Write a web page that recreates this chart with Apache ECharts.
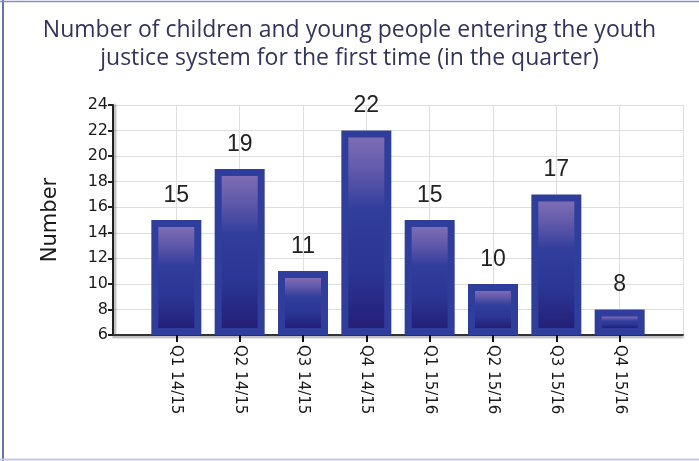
<!DOCTYPE html>
<html>
<head>
<meta charset="utf-8">
<script src="https://cdn.jsdelivr.net/npm/echarts@6/dist/echarts.min.js"></script>
<style>
html,body{margin:0;padding:0;background:#fff;}
#main{width:699px;height:461px;}
</style>
</head>
<body>
<div id="main"></div>
<script>
const titleText = 'Number of children and young people entering the youth\njustice system for the first time (in the quarter)';
const categories = ['Q1 14/15','Q2 14/15','Q3 14/15','Q4 14/15','Q1 15/16','Q2 15/16','Q3 15/16','Q4 15/16'];
const values = [15, 19, 11, 22, 15, 10, 17, 8];
const yTicks = {min: 6, max: 24, interval: 2};
const yName = 'Number';

const axisCats = [''].concat(categories, ['']);
const chart = echarts.init(document.getElementById('main'));

const innerGrad = new echarts.graphic.LinearGradient(0, 0, 0, 1, [
  {offset: 0, color: '#7e6db4'},
  {offset: 0.18, color: '#5f58aa'},
  {offset: 0.38, color: '#323e9c'},
  {offset: 0.7, color: '#2b3593'},
  {offset: 1, color: '#241f78'}
]);

chart.setOption({
  animation: false,
  title: {
    text: titleText,
    left: 'center',
    top: 11,
    textStyle: {fontFamily: 'Open Sans', fontSize: 23, fontWeight: 'normal', color: '#33335f', lineHeight: 28, letterSpacing: -0.2}
  },
  grid: {left: 113, right: 16, top: 105, bottom: 126},
  xAxis: {
    type: 'category',
    data: axisCats,
    boundaryGap: false,
    axisLine: {lineStyle: {color: '#333', width: 2, shadowColor: 'rgba(0,0,0,0.35)', shadowOffsetY: 2, shadowBlur: 2}},
    axisTick: {length: 7, lineStyle: {color: '#111', width: 2}, interval: (i) => i > 0 && i < axisCats.length - 1},
    axisLabel: {rotate: -90, interval: 0, margin: 10, fontFamily: 'DejaVu Sans', fontSize: 15, color: '#1a1a1a'},
    splitLine: {show: true, lineStyle: {color: '#dedede', width: 1}}
  },
  yAxis: {
    type: 'value',
    min: yTicks.min, max: yTicks.max, interval: yTicks.interval,
    name: yName,
    nameLocation: 'middle',
    nameGap: 52,
    nameTextStyle: {fontFamily: 'DejaVu Sans', fontSize: 21, color: '#1a1a1a'},
    axisLine: {show: true, lineStyle: {color: '#222', width: 2, shadowColor: 'rgba(0,0,0,0.35)', shadowOffsetX: 2, shadowBlur: 2}},
    axisTick: {show: true, length: 5, lineStyle: {color: '#222', width: 2}},
    axisLabel: {margin: 5, fontFamily: 'DejaVu Sans', fontSize: 16, color: '#1a1a1a'},
    splitLine: {lineStyle: {color: '#dedede', width: 1}}
  },
  graphic: [
    {type: 'line', shape: {x1: 3, y1: 0, x2: 3, y2: 461}, style: {stroke: '#6a6fb6', lineWidth: 2}},
    {type: 'line', shape: {x1: 0, y1: 1.5, x2: 699, y2: 1.5}, style: {stroke: '#8b8fc8', lineWidth: 1.5}},
    {type: 'line', shape: {x1: 0, y1: 459.5, x2: 699, y2: 459.5}, style: {stroke: '#c5c8ea', lineWidth: 2}}
  ],
  series: [{
    type: 'custom',
    data: categories.map((c, i) => [c, values[i]]),
    encode: {x: 0, y: 1},
    renderItem: function (params, api) {
      const v = api.value(1);
      const top = api.coord([api.value(0), v]);
      const base = api.coord([api.value(0), yTicks.min]);
      const w = 50, b = 7;
      const left = top[0] - w / 2;
      const h = base[1] - top[1];
      return {
        type: 'group',
        children: [
          {type: 'rect', shape: {x: left, y: top[1], width: w, height: h}, style: {fill: '#2f3e9d'}},
          {type: 'rect', shape: {x: left + b, y: top[1] + b, width: w - 2 * b, height: h - 2 * b}, style: {fill: innerGrad}},
          {type: 'text', x: top[0], y: top[1] - 13, style: {text: String(v), align: 'center', verticalAlign: 'bottom', font: '23px "Liberation Sans Narrow", "Liberation Sans", sans-serif', fill: '#222'}}
        ]
      };
    }
  }]
});
</script>
</body>
</html>
